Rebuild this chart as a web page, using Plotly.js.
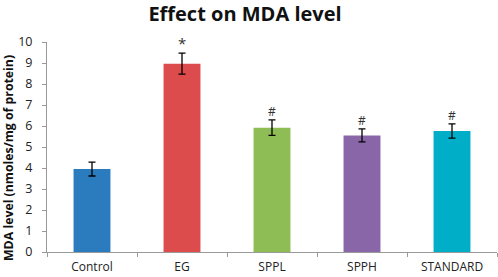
<!DOCTYPE html>
<html><head><meta charset="utf-8">
<script src="https://cdn.plot.ly/plotly-3.0.1.min.js"></script>
<style>html,body{margin:0;padding:0;background:#fff;}#chart{width:498px;height:277px;}</style>
</head><body><div id="chart"></div>
<script>
var categories = ["Control", "EG", "SPPL", "SPPH", "STANDARD"];
var values = [3.95, 8.97, 5.92, 5.55, 5.76];
var errors = [0.33, 0.5, 0.37, 0.31, 0.34];
var marks = ["", "*", "#", "#", "#"];
var colors = ["#2b7bbf", "#dd4c4c", "#8fbd55", "#8866a7", "#00aec8"];
var yTicks = [0,1,2,3,4,5,6,7,8,9,10];

var font = "Open Sans, Liberation Sans, sans-serif";
var trace = {
  type: "bar", x: categories, y: values, width: 0.41,
  marker: {color: colors},
  error_y: {type: "data", array: errors, visible: true, color: "#000", thickness: 1.3, width: 3.5},
  hoverinfo: "none"
};
var annotations = [];
for (var i = 0; i < categories.length; i++) {
  if (marks[i]) {
    annotations.push({x: categories[i], y: values[i] + errors[i], xref: "x", yref: "y",
      text: marks[i], showarrow: false, yanchor: "bottom",
      yshift: marks[i] === "*" ? -2 : -2.5,
      font: {family: font, size: marks[i] === "*" ? 15 : 12, color: "#333"}});
  }
}
annotations.push({text: "<b>MDA level (nmoles/mg of protein)</b>", xref: "paper", yref: "paper",
  x: 0, y: 0.5, xshift: -39, yshift: -11, textangle: -90, showarrow: false,
  xanchor: "center", yanchor: "middle",
  font: {family: font, size: 12.3, color: "#111"}});
var layout = {
  width: 498, height: 277,
  margin: {l: 47, r: 1, t: 42, b: 25},
  paper_bgcolor: "#fff", plot_bgcolor: "#fff",
  showlegend: false,
  title: {text: "<b>Effect on MDA level</b>", x: 0.492, xanchor: "center", y: 0.948, yanchor: "middle",
    font: {family: "Open Sans, sans-serif", size: 20, color: "#111"}},
  xaxis: {type: "category", tickson: "boundaries", ticks: "outside", ticklen: 4, tickcolor: "#999",
    showline: true, linecolor: "#999", linewidth: 1, showgrid: false, ticklabelstandoff: 4,
    tickfont: {family: font, size: 12, color: "#222"}, range: [-0.5, 4.5]},
  yaxis: {range: [0, 10], tickvals: yTicks, ticks: "outside", ticklen: 4, tickcolor: "#999",
    showline: true, linecolor: "#999", linewidth: 1, showgrid: false, zeroline: false,
    ticklabelstandoff: 7,
    tickfont: {family: font, size: 12.5, color: "#222"}},
  annotations: annotations
};
Plotly.newPlot("chart", [trace], layout, {displayModeBar: false, staticPlot: true});
</script></body></html>
